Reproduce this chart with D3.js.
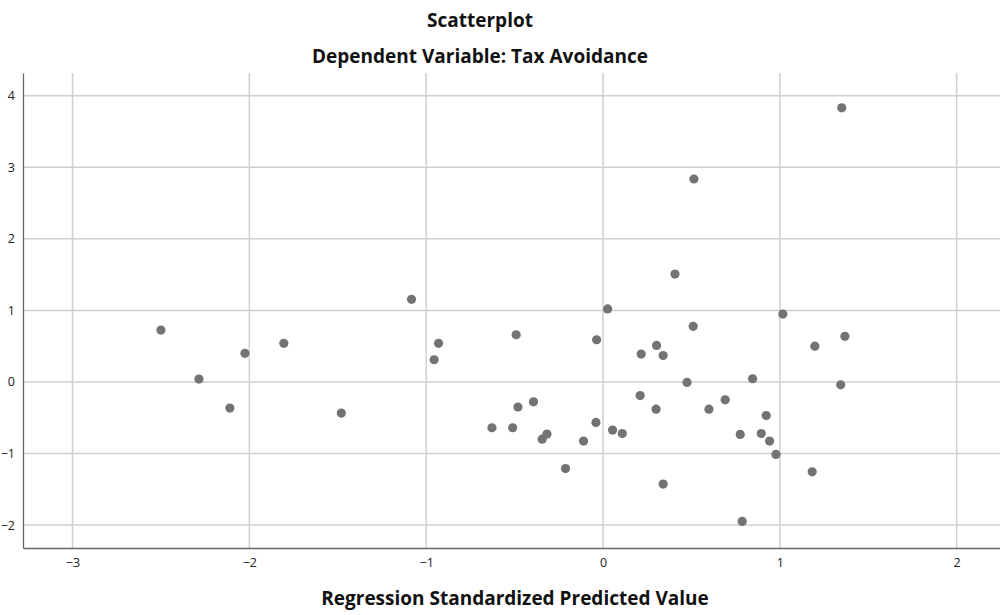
<!DOCTYPE html>
<html>
<head>
<meta charset="utf-8">
<script src="https://cdn.jsdelivr.net/npm/d3@7"></script>
<style>
  body { margin: 0; background: #fff; }
  text { font-family: "Open Sans", "DejaVu Sans", sans-serif; }
  .title { font-weight: bold; font-size: 19px; fill: #111; }
  .tick text { font-size: 12.5px; fill: #222; }
</style>
</head>
<body>
<svg id="chart" width="1000" height="615"></svg>
<script>
// predicted (x) and residual (y) values
const predicted = [
  -2.50, -2.285, -2.11, -2.025, -1.805, -1.48, -1.083, -0.955, -0.93,
  -0.491, -0.481, -0.628, -0.511, -0.393, -0.344, -0.317, -0.212, -0.11,
  -0.036, -0.04, 0.026, 0.054, 0.109, 0.21, 0.216, 0.303, 0.30, 0.34,
  0.34, 0.407, 0.475, 0.51, 0.514, 0.599, 0.691, 0.776, 0.787, 0.846,
  0.895, 0.923, 0.942, 0.978, 1.017, 1.183, 1.198, 1.344, 1.35, 1.368
];
const residual = [
  0.725, 0.04, -0.365, 0.40, 0.54, -0.435, 1.154, 0.31, 0.54,
  0.66, -0.35, -0.64, -0.64, -0.277, -0.80, -0.728, -1.21, -0.826,
  0.59, -0.565, 1.02, -0.672, -0.72, -0.19, 0.39, 0.51, -0.38, 0.37,
  -1.427, 1.508, -0.006, 0.777, 2.836, -0.38, -0.249, -0.733, -1.948, 0.045,
  -0.72, -0.47, -0.826, -1.012, 0.949, -1.255, 0.50, -0.04, 3.83, 0.637
];
const xTicks = [-3, -2, -1, 0, 1, 2];
const yTicks = [-2, -1, 0, 1, 2, 3, 4];

const points = predicted.map((p, i) => ({x: p, y: residual[i]}));

const svg = d3.select('#chart');
const plotLeft = 23, plotRight = 1000, plotTop = 73, plotBottom = 548;

const x = d3.scaleLinear().domain([-3.28, 2.245]).range([plotLeft, plotRight]);
const y = d3.scaleLinear().domain([-2.32, 4.317]).range([plotBottom, plotTop]);

// grid
svg.append('g')
    .selectAll('line')
    .data(xTicks)
    .enter()
    .append('line')
    .attr('x1', d => x(d)).attr('x2', d => x(d))
    .attr('y1', plotTop).attr('y2', plotBottom)
    .attr('stroke', '#cfcfcf').attr('stroke-width', 1.5);

svg.append('g')
    .selectAll('line')
    .data(yTicks)
    .enter()
    .append('line')
    .attr('x1', plotLeft).attr('x2', plotRight)
    .attr('y1', d => y(d)).attr('y2', d => y(d))
    .attr('stroke', '#cfcfcf').attr('stroke-width', 1.5);

// axes
const minus = d => d < 0 ? '\u2212' + Math.abs(d) : d;
const xAxis = svg.append('g')
    .attr('transform', `translate(0,${plotBottom})`)
    .call(d3.axisBottom(x).tickValues(xTicks).tickSize(0).tickPadding(10).tickFormat(minus));
const yAxis = svg.append('g')
    .attr('transform', `translate(${plotLeft},0)`)
    .call(d3.axisLeft(y).tickValues(yTicks).tickSize(0).tickPadding(8).tickFormat(minus));
[xAxis, yAxis].forEach(a => {
    a.select('.domain').attr('stroke', '#666').attr('stroke-width', 1.3);
});

// points
svg.append('g')
    .selectAll('circle')
    .data(points)
    .enter()
    .append('circle')
    .attr('cx', d => x(d.x))
    .attr('cy', d => y(d.y))
    .attr('r', 4.6)
    .attr('fill', '#737373');

// titles
svg.append('text').attr('class', 'title')
    .attr('x', 480).attr('y', 27).attr('text-anchor', 'middle')
    .text('Scatterplot');
svg.append('text').attr('class', 'title')
    .attr('x', 480).attr('y', 63).attr('text-anchor', 'middle')
    .text('Dependent Variable: Tax Avoidance');
svg.append('text').attr('class', 'title')
    .attr('x', 515).attr('y', 605).attr('text-anchor', 'middle')
    .text('Regression Standardized Predicted Value');
</script>
</body>
</html>
